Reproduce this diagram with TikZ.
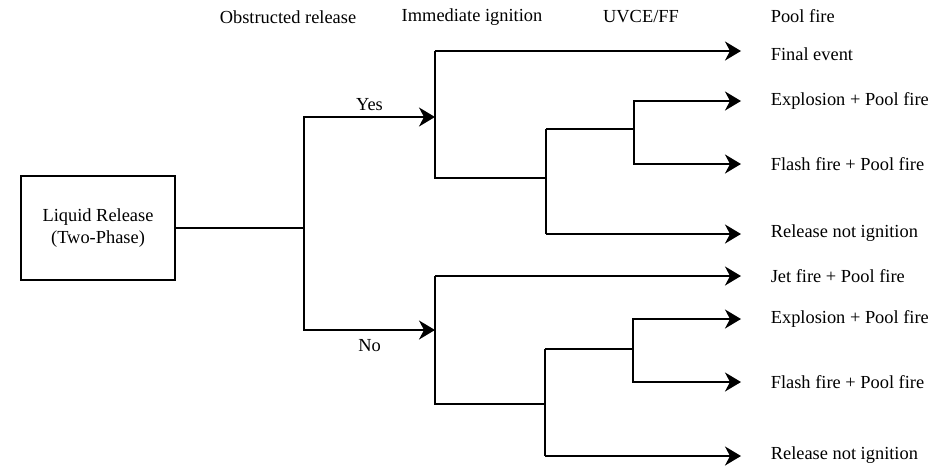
\documentclass[tikz,border=0pt]{standalone}
\usepackage{fontspec}
\setmainfont{Liberation Serif}
\usetikzlibrary{arrows.meta}
\begin{document}
\begin{tikzpicture}[x=1pt,y=-1pt,
  line width=1.6pt, line join=miter,
  txt/.style={font=\fontsize{18.4}{22}\selectfont, inner sep=0pt},
  event/.style={txt, anchor=west},
  head/.style={txt},
  arr/.style={-{Stealth[length=16pt,width=19pt,inset=5pt]}},
  startbox/.style={draw, txt, minimum width=154pt, minimum height=104pt, align=center}]
\useasboundingbox (0,0) rectangle (942,466);

% initiating event
\node[startbox] (src) at (98,228) {Liquid Release\\(Two-Phase)};

% column headings
\node[head] (h1) at (288,17) {Obstructed release};
\node[head] (h2) at (472,17) {Immediate ignition};
\node[head] (h3) at (641,17) {UVCE/FF};
\node[event] (h4) at (770,16) {Pool fire};

% outcomes
\node[event] (e0) at (770,54) {Final event};
\node[event] (e1) at (770,101) {Explosion + Pool fire};
\node[event] (e2) at (770,164) {Flash fire + Pool fire};
\node[event] (e3) at (770,233) {Release not ignition};
\node[event] (e4) at (770,276) {Jet fire + Pool fire};
\node[event] (e5) at (770,319) {Explosion + Pool fire};
\node[event] (e6) at (770,382) {Flash fire + Pool fire};
\node[event] (e7) at (770,455) {Release not ignition};

% branch points
\coordinate (j0) at (304,228);
\coordinate (a1) at (435,117);
\coordinate (a2) at (435,330);
\coordinate (b1) at (546,178);
\coordinate (c1) at (634,129);
\coordinate (b2) at (545,404);
\coordinate (c2) at (633,349);

% obstructed release
\draw (src.east) -- (j0);
\draw[arr] (j0) |- (a1) node[pos=0.75, above=6pt, txt] (yes) {Yes};
\draw[arr] (j0) |- (a2) node[pos=0.75, below=9pt, txt] (no) {No};

% upper tree
\draw (435,51) -- (435,178) -- (b1);
\draw[arr] (435,51) -- ([xshift=-29pt]e0.west |- 435,51);
\draw (546,129) -- (546,234);
\draw (546,129) -- (c1);
\draw[arr] (c1) |- ([xshift=-29pt]e1.west);
\draw[arr] (c1) |- ([xshift=-29pt]e2.west);
\draw[arr] (546,234) -- ([xshift=-29pt]e3.west |- 546,234);

% lower tree
\draw (435,276) -- (435,404) -- (b2);
\draw[arr] (435,276) -- ([xshift=-29pt]e4.west |- 435,276);
\draw (545,349) -- (545,456);
\draw (545,349) -- (c2);
\draw[arr] (c2) |- ([xshift=-29pt]e5.west);
\draw[arr] (c2) |- ([xshift=-29pt]e6.west);
\draw[arr] (545,456) -- ([xshift=-29pt]e7.west |- 545,456);
\end{tikzpicture}
\end{document}
